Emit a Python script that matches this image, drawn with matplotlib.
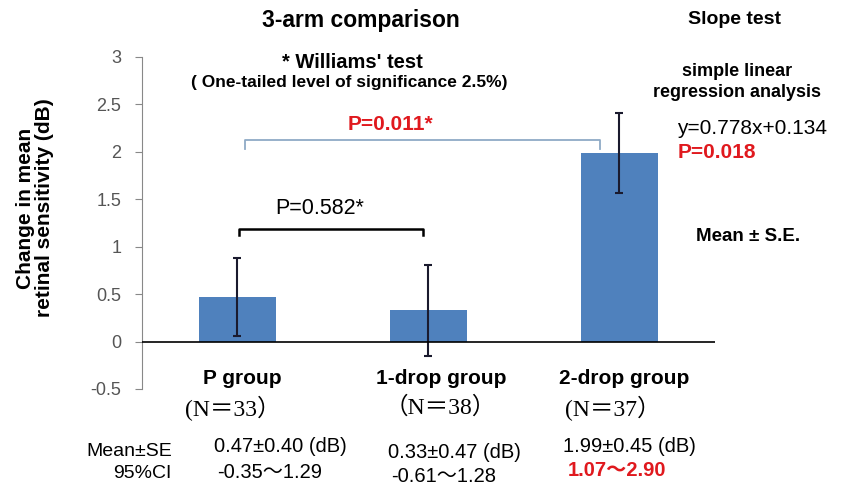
import numpy as np
import matplotlib.pyplot as plt

# Data
groups = ['P group', '1-drop group', '2-drop group']
n_labels = ['(N＝33）', '（N＝38）', '(N＝37）']
means = [0.47, 0.33, 1.99]
errors = [0.41, 0.48, 0.42]
se_text = ['0.47±0.40 (dB)', '0.33±0.47 (dB)', '1.99±0.45 (dB)']
ci_text = ['-0.35～1.29', '-0.61～1.28', '1.07～2.90']
yticks = [-0.5, 0, 0.5, 1, 1.5, 2, 2.5, 3]

sans = ['Liberation Sans', 'Noto Sans CJK JP', 'DejaVu Sans']
serif = ['Liberation Serif', 'Noto Sans CJK JP', 'DejaVu Sans']
plt.rcParams['font.family'] = sans

red = '#E0191E'
blue = '#4F81BD'

fig = plt.figure(figsize=(8.41, 4.88), dpi=100)
ax = fig.add_axes([0.1688, 0.2029, 0.6813, 0.6803])

x = np.arange(len(groups))
ax.bar(x, means, width=0.4, color=blue, zorder=2)
ax.errorbar(x, means, yerr=errors, fmt='none', ecolor='#1a1a2e', elinewidth=1.5,
            capsize=3, capthick=1.5, zorder=3)

ax.set_xlim(-0.5, 2.5)
ax.set_ylim(-0.5, 3)
ax.axhline(0, color='black', lw=1.2, zorder=4)
ax.set_yticks(yticks)
ax.set_yticklabels([f'{t:g}' for t in yticks], color='#555555', fontsize=13)
ax.tick_params(axis='y', length=5, color='#888888', pad=10)
ax.set_xticks([])
for s in ['top', 'right', 'bottom']:
    ax.spines[s].set_visible(False)
ax.spines['left'].set_color('#888888')

fig.text(35 / 841, 1 - 208 / 488, 'Change in mean\nretinal sensitivity (dB)',
         rotation=90, ha='center', va='center', multialignment='center',
         fontsize=15, fontweight='bold', linespacing=0.95)

# brackets
ax.plot([0.04, 0.04, 1.90, 1.90], [2.03, 2.13, 2.13, 2.03], color='#8FAAC6',
        lw=1.3, clip_on=False, zorder=5)
ax.plot([0.01, 0.01, 0.97, 0.97], [1.12, 1.19, 1.19, 1.12], color='black',
        lw=1.8, clip_on=False, zorder=5)
fig.text(320 / 841, 1 - 208 / 488, 'P=0.582*', ha='center', va='center', fontsize=15.5)
fig.text(390 / 841, 1 - 124 / 488, 'P=0.011*', ha='center', va='center',
         fontsize=15, fontweight='bold', color=red)

# category labels
lab_x = [242, 441, 624]
n_x = [233, 440, 613]
for i in range(len(groups)):
    fig.text(lab_x[i] / 841, 1 - 379 / 488, groups[i], ha='center', va='center',
             fontsize=15, fontweight='bold')
    fig.text(n_x[i] / 841, 1 - 408 / 488, n_labels[i], ha='center',
             va='center', fontsize=17, family=serif)

# bottom table
fig.text(172 / 841, 1 - 451 / 488, 'Mean±SE', ha='right', va='center', fontsize=14)
fig.text(172 / 841, 1 - 473 / 488, '95%CI', ha='right', va='center', fontsize=14)
se_x = [280, 454, 629]
se_y = [447, 452, 446]
ci_x = [270, 444, 617]
ci_y = [472, 476, 470]
for i in range(len(groups)):
    fig.text(se_x[i] / 841, 1 - se_y[i] / 488, se_text[i], ha='center',
             va='center', fontsize=14.5)
    fig.text(ci_x[i] / 841, 1 - ci_y[i] / 488, ci_text[i], ha='center',
             va='center', fontsize=14.5,
             color=red if i == 2 else 'black',
             fontweight='bold' if i == 2 else 'normal')

# titles and notes
fig.text(361 / 841, 1 - 21 / 488, '3-arm comparison', ha='center', va='center',
         fontsize=16.5, fontweight='bold')
fig.text(734 / 841, 1 - 20 / 488, 'Slope test', ha='center', va='center',
         fontsize=14, fontweight='bold')
fig.text(352 / 841, 1 - 63 / 488, "* Williams' test", ha='center', va='center',
         fontsize=14.5, fontweight='bold')
fig.text(349 / 841, 1 - 83 / 488, '( One-tailed level of significance 2.5%)',
         ha='center', va='center', fontsize=12.5, fontweight='bold')
fig.text(737 / 841, 1 - 82 / 488, 'simple linear\nregression analysis',
         ha='center', va='center', fontsize=13, fontweight='bold', linespacing=1.35)
fig.text(677 / 841, 1 - 128 / 488, 'y=0.778x+0.134', ha='left', va='center',
         fontsize=15)
fig.text(678 / 841, 1 - 153 / 488, 'P=0.018', ha='left', va='center',
         fontsize=15, fontweight='bold', color=red)
fig.text(748 / 841, 1 - 237 / 488, 'Mean ± S.E.', ha='center', va='center',
         fontsize=13.5, fontweight='bold')

fig.savefig('out.png', dpi=100)
